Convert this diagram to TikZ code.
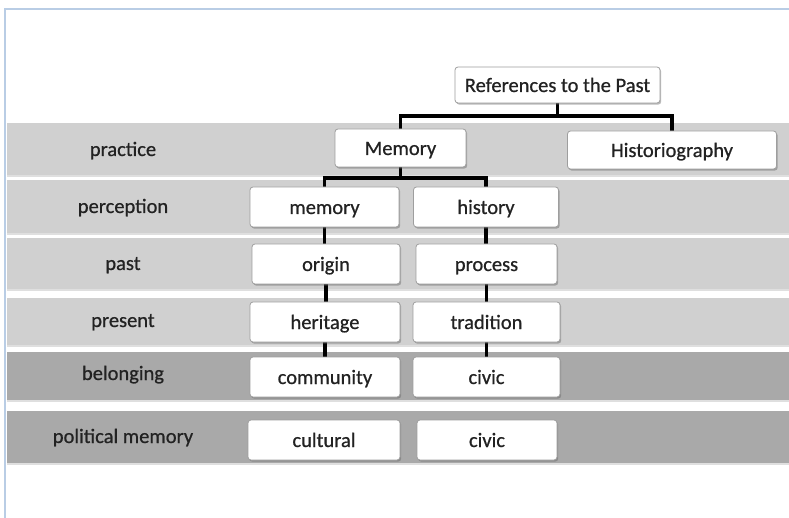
\documentclass[tikz,border=0pt]{standalone}
\usepackage{fontspec}
\setmainfont{Carlito}
\newfontfamily\diafont{Carlito}[FakeBold=0.7]
\usetikzlibrary{shadows}
\definecolor{bandlight}{HTML}{D0D0D0}
\definecolor{banddark}{HTML}{A9A9A9}
\definecolor{frameblue}{HTML}{B9CDE5}
\definecolor{txt}{HTML}{222222}
\pgfdeclarelayer{bandlayer}
\pgfdeclarelayer{linelayer}
\pgfsetlayers{bandlayer,linelayer,main}
\begin{document}
\begin{tikzpicture}[x=1pt,y=-1pt,
  box/.style={draw=black!38, fill=white, rounded corners=3pt, line width=0.8pt,
    drop shadow={shadow xshift=1.2pt, shadow yshift=-1.6pt, opacity=0.45, fill=black!60},
    font=\diafont\fontsize{20.5}{24}\selectfont, text=txt, inner sep=0pt,
    text height=18pt, text depth=4pt},
  band/.style={draw=none, inner sep=0pt, minimum width=782pt,
    drop shadow={shadow xshift=0pt, shadow yshift=-2pt, opacity=0.25}},
  lab/.style={font=\diafont\fontsize{20.5}{24}\selectfont, text=txt, inner sep=0pt,
    text height=18pt, text depth=4pt},
  conn/.style={line width=3.5pt, black}]
\useasboundingbox (0,0) rectangle (789,518);
\begin{pgfonlayer}{bandlayer}
\fill[white] (0,0) rectangle (789,518);
\draw[frameblue, line width=2pt] (5,518) -- (5,9) -- (789,9);
\node[band, fill=bandlight, minimum height=52pt] (b1) at (398,149) {};
\node[band, fill=bandlight, minimum height=53pt] (b2) at (398,206.5) {};
\node[band, fill=bandlight, minimum height=51pt] (b3) at (398,263.5) {};
\node[band, fill=bandlight, minimum height=47pt] (b4) at (398,321.5) {};
\node[band, fill=banddark, minimum height=48pt] (b5) at (398,376) {};
\node[band, fill=banddark, minimum height=52pt] (b6) at (398,437) {};
\end{pgfonlayer}

\node[lab] (l1) at (123,149) {practice};
\node[lab] (l2) at (123,206) {perception};
\node[lab] (l3) at (123,263) {past};
\node[lab] (l4) at (123,320) {present};
\node[lab] (l5) at (123,373) {belonging};
\node[lab] (l6) at (123,436) {political memory};

\node[box, minimum width=205pt, minimum height=36pt] (ref) at (557.5,85) {References to the Past};
\node[box, minimum width=131pt, minimum height=38pt] (Mem) at (400.5,148) {Memory};
\node[box, minimum width=209pt, minimum height=38pt] (Hist) at (672,150) {Historiography};

\node[box, minimum width=149pt, minimum height=40pt] (memory) at (324.5,207) {memory};
\node[box, minimum width=145pt, minimum height=40pt] (history) at (486,207) {history};
\node[box, minimum width=148pt, minimum height=40pt] (origin) at (326,264) {origin};
\node[box, minimum width=141pt, minimum height=40pt] (process) at (486.5,264) {process};
\node[box, minimum width=150pt, minimum height=40pt] (heritage) at (325,322) {heritage};
\node[box, minimum width=147pt, minimum height=40pt] (tradition) at (486.5,322) {tradition};
\node[box, minimum width=150pt, minimum height=40pt] (community) at (325,377) {community};
\node[box, minimum width=147pt, minimum height=40pt] (civicA) at (486.5,377) {civic};
\node[box, minimum width=152pt, minimum height=40pt] (cultural) at (324,440) {cultural};
\node[box, minimum width=140pt, minimum height=40pt] (civicB) at (487,440) {civic};

\coordinate (j1) at (557.5,116);
\coordinate (j2) at (400.5,178);
\begin{pgfonlayer}{linelayer}
\draw[conn] (ref.south) -- (j1);
\draw[conn] (Mem.north) |- (j1) -| (Hist.north);
\draw[conn] (Mem.south) -- (j2);
\draw[conn] (memory.north) |- (j2) -| (history.north);
\draw[conn] (memory.south) -- (memory.south |- origin.north);
\draw[conn] (origin.south) -- (origin.south |- heritage.north);
\draw[conn] (heritage.south) -- (heritage.south |- community.north);
\draw[conn] (history.south) -- (history.south |- process.north);
\draw[conn] (process.south) -- (process.south |- tradition.north);
\draw[conn] (tradition.south) -- (tradition.south |- civicA.north);
\end{pgfonlayer}
\end{tikzpicture}
\end{document}
